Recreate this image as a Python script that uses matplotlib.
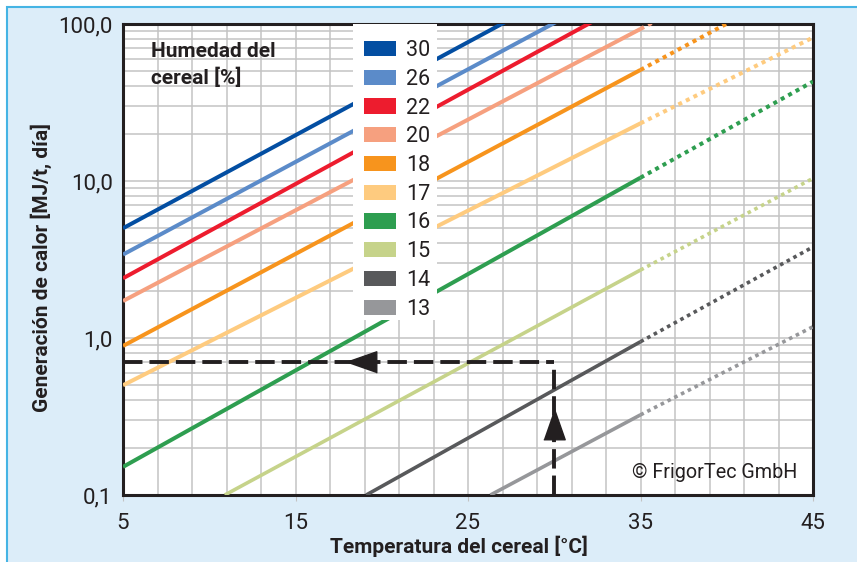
import matplotlib
matplotlib.use('Agg')
import matplotlib.pyplot as plt
from matplotlib.patches import Patch, Rectangle
from matplotlib.ticker import FixedLocator, NullFormatter

plt.rcParams['font.family'] = ['Roboto', 'DejaVu Sans']

# humedad del cereal [%] y colores
humedad = [30, 26, 22, 20, 18, 17, 16, 15, 14, 13]
colores = ['#034ea2', '#5b8bc9', '#ed1c2e', '#f6a07f', '#f7941d',
           '#fecb7f', '#2e9e50', '#c6d38a', '#58595b', '#96979a']

# puntos de cada recta (MJ/t dia)
t_inicio = [5, 5, 5, 5, 5, 5, 5, 10.9, 19.1, 26.3]
q_inicio = [5.0, 3.4, 2.4, 1.72, 0.89, 0.50, 0.151, 0.1, 0.1, 0.1]
q_35 = [300, 200, 152, 93, 51, 23.3, 10.5, 2.71, 0.947, 0.324]
q_45 = [1150, 780, 600, 360, 198, 82, 43, 10.4, 3.8, 1.18]

# ejemplo de lectura: 30 grados -> 0.7 MJ/t dia
t_ej = 30
q_ej = 0.7

fig = plt.figure(figsize=(8.57, 5.62), dpi=100, facecolor='white')
fig.patches.append(Rectangle((7/857, -0.1), 1.2, 1 - 7/562 + 0.1,
                             transform=fig.transFigure, facecolor='#dcedf9',
                             edgecolor='#45b4e4', lw=1.5, zorder=-10))

ax = fig.add_axes([123/857, 1 - 495/562, 690/857, 471/562])
ax.set_zorder(1)
ax.set_yscale('log')
ax.set_xlim(5, 45)
ax.set_ylim(0.1, 100)

for i in range(len(humedad)):
    lw = 2.9 if humedad[i] >= 16 else 2.6
    ax.plot([t_inicio[i], 35], [q_inicio[i], q_35[i]], color=colores[i],
            lw=lw, solid_capstyle='butt', zorder=3)
    ax.plot([35, 45], [q_35[i], q_45[i]], color=colores[i], lw=lw,
            linestyle=(0, (1, 1.1)), dash_capstyle='butt', zorder=3)

# lineas de lectura
ax.plot([5, t_ej], [q_ej, q_ej], color='#231f20', lw=2.8,
        linestyle=(0, (5, 1.8)), dash_capstyle='butt', zorder=5)
ax.plot([t_ej, t_ej], [0.1, 0.656], color='#231f20', lw=2.8,
        linestyle=(0, (5, 1.8)), dash_capstyle='butt', zorder=5)
ax.plot([18.8], [q_ej], marker=[(-1, 0), (1, 0.7), (1, -0.7)],
        markersize=22, color='#231f20', zorder=6)
ax.plot([t_ej], [0.285], marker=[(0, 1), (0.7, -1), (-0.7, -1)],
        markersize=22, color='#231f20', zorder=6)

# rejilla
ax.xaxis.set_major_locator(FixedLocator([5, 15, 25, 35, 45]))
ax.xaxis.set_minor_locator(FixedLocator(range(5, 46, 2)))
ax.yaxis.set_major_locator(FixedLocator([0.1, 1, 10, 100]))
ax.yaxis.set_minor_locator(FixedLocator([m * 10.0**e for e in (-1, 0, 1)
                                         for m in range(2, 10)]))
ax.yaxis.set_minor_formatter(NullFormatter())
ax.set_yticklabels(['0,1', '1,0', '10,0', '100,0'])
ax.grid(True, which='both', color='#c3c3c3', lw=1.1, zorder=1)
ax.set_axisbelow(True)
ax.tick_params(axis='y', which='both', length=0, pad=7.5, labelsize=16,
               labelcolor='#231f20')
ax.tick_params(axis='x', which='major', length=4, color='#c3c3c3', pad=9,
               labelsize=16, labelcolor='#231f20')
ax.tick_params(axis='x', which='minor', length=0)
for s in ax.spines.values():
    s.set_color('#231f20')
    s.set_linewidth(2.2)

ax.set_xlabel('Temperatura del cereal [°C]', fontsize=15, fontweight='bold',
              color='#231f20', labelpad=1, x=0.487)
ax.set_ylabel('Generación de calor [MJ/t, día]', fontsize=15,
              fontweight='bold', color='#231f20', labelpad=4.5, y=0.482)

ax.text(0.04, 0.962, 'Humedad del\ncereal [%]', transform=ax.transAxes,
        fontsize=15, fontweight='bold', color='#231f20', va='top',
        linespacing=1.4, zorder=4)
ax.text(0.977, 0.027, '© FrigorTec GmbH', transform=ax.transAxes,
        fontsize=14.2, color='#231f20', ha='right', va='bottom', zorder=4)

# fondo blanco de la leyenda
ax.add_patch(Rectangle((230/690, 175/471), 84/690, 296/471,
                       transform=ax.transAxes, facecolor='white',
                       edgecolor='none', zorder=6))
handles = [Patch(facecolor=c, edgecolor='none') for c in colores]
leg = ax.legend(handles, [str(h) for h in humedad], loc='upper left',
                bbox_to_anchor=(241/690, 455/471), fontsize=15.5, frameon=False,
                borderaxespad=0, handlelength=1.5, handleheight=0.7,
                handletextpad=0.45, labelspacing=0.36, borderpad=0)
leg.set_zorder(7)
for t in leg.get_texts():
    t.set_color('#231f20')

fig.savefig('out.png', dpi=100, facecolor=fig.get_facecolor())
